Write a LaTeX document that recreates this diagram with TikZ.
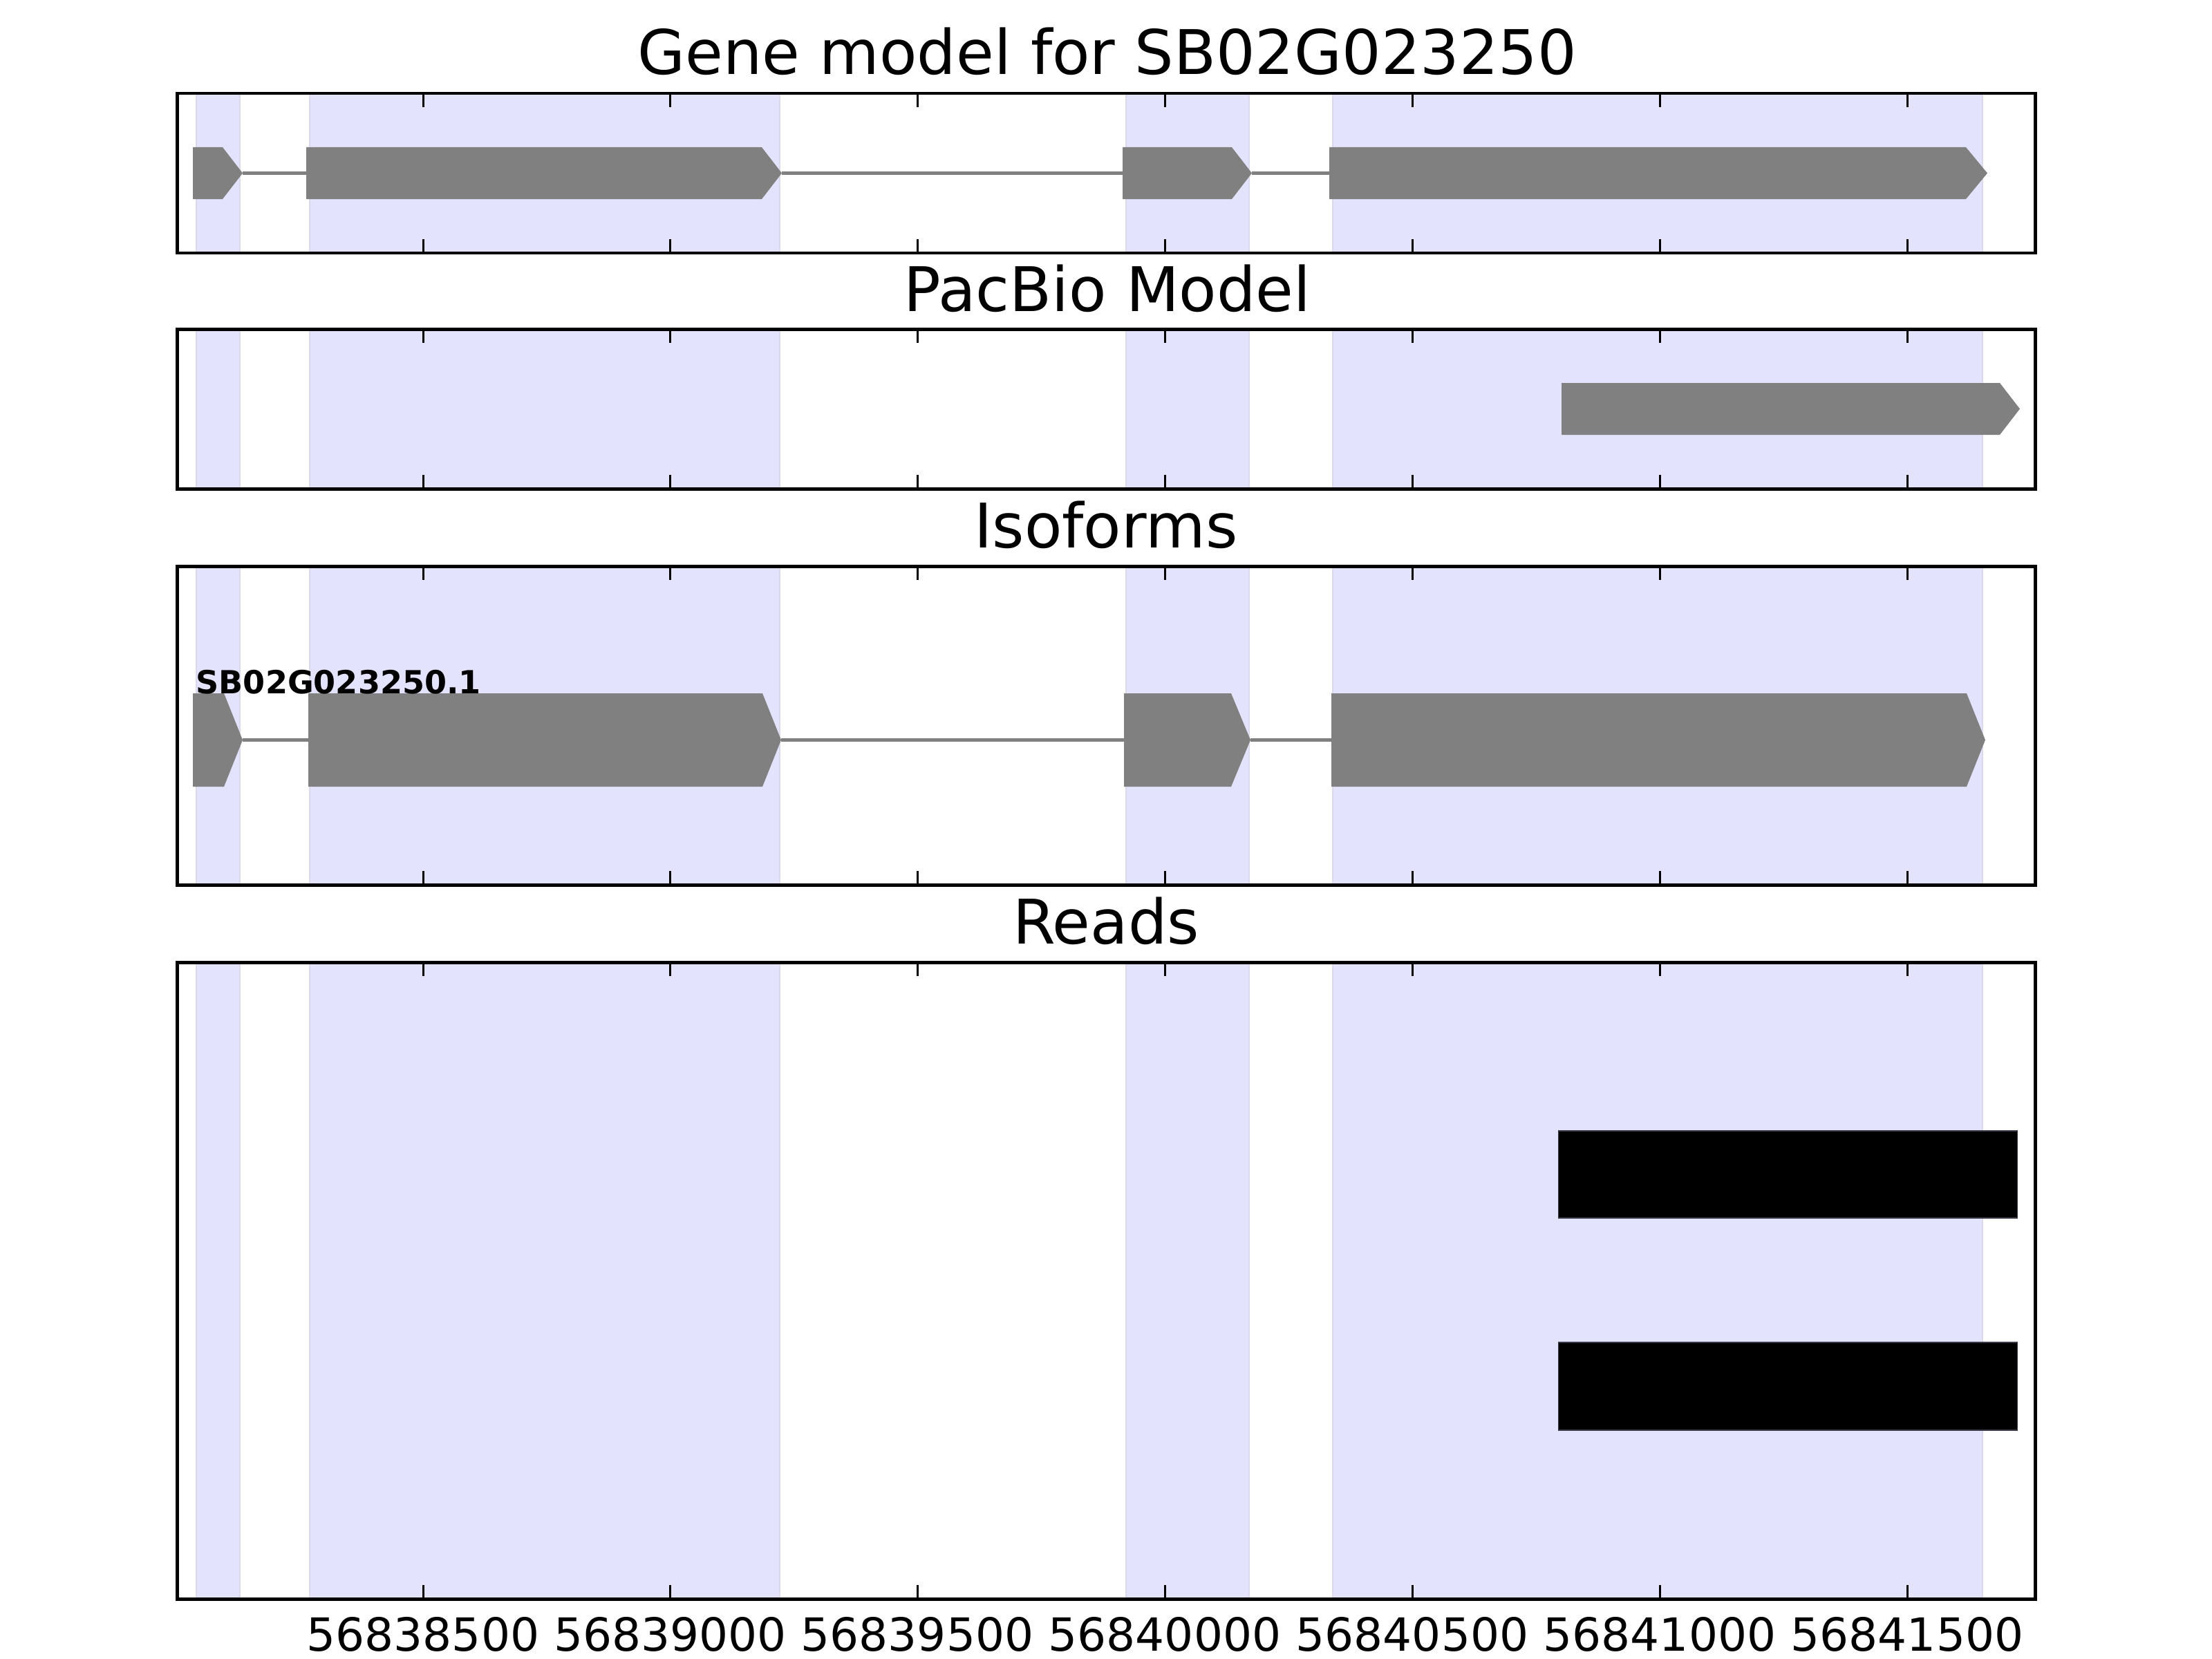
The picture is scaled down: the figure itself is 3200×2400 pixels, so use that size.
\documentclass[tikz,border=0pt]{standalone}
\usepackage{fontspec}
\setmainfont{DejaVu Sans}
\definecolor{exongray}{HTML}{808080}
\definecolor{shadefill}{HTML}{E3E3FD}
\definecolor{shadeedge}{HTML}{DADAEC}
\definecolor{readedge}{HTML}{3A3A4A}
\begin{document}
\begin{tikzpicture}[x=0.01cm,y=-0.01cm,
  exonshape/.style={fill=exongray, draw=none},
  intronline/.style={draw=exongray, line width=1.4pt},
  shadebox/.style={fill=shadefill, draw=shadeedge, line width=0.8pt},
  panelframe/.style={draw=black, line width=1.42pt},
  tickmark/.style={draw=black, line width=0.85pt},
  readbox/.style={fill=black, draw=readedge, line width=0.3pt},
  titletext/.style={font=\fontsize{25.3}{30}\selectfont, anchor=base, inner sep=0pt},
  ticklabel/.style={font=\fontsize{18.8}{22}\selectfont, anchor=base, inner sep=0pt},
  isolabel/.style={font=\bfseries\fontsize{13.1}{15}\selectfont, anchor=base west, inner sep=0pt}]
\useasboundingbox[fill=white] (0,0) rectangle (3200,2400);

% shaded exon regions in every panel
\foreach \t/\b in {135/366, 476/707, 819/1280, 1392/2313} {
  \foreach \xa/\xb in {284/347, 448/1128, 1629/1807, 1928/2868} {
    \path[shadebox] (\xa,\t) rectangle (\xb,\b);
  }
}

% ---- Panel 1: gene model ----
\draw[intronline] (351,250.5) -- (443,250.5);
\draw[intronline] (1131,250.5) -- (1624,250.5);
\draw[intronline] (1811,250.5) -- (1923,250.5);
\fill[exonshape] (279,213) -- (322,213) -- (351,250.5) -- (322,288) -- (279,288) -- cycle;
\fill[exonshape] (443,213) -- (1102,213) -- (1131,250.5) -- (1102,288) -- (443,288) -- cycle;
\fill[exonshape] (1624,213) -- (1782,213) -- (1811,250.5) -- (1782,288) -- (1624,288) -- cycle;
\fill[exonshape] (1923,213) -- (2844,213) -- (2875,250.5) -- (2844,288) -- (1923,288) -- cycle;

% ---- Panel 2: PacBio model ----
\fill[exonshape] (2259,554) -- (2893,554) -- (2922,591.5) -- (2893,629) -- (2259,629) -- cycle;

% ---- Panel 3: isoforms ----
\draw[intronline] (351,1070.5) -- (446,1070.5);
\draw[intronline] (1130,1070.5) -- (1626,1070.5);
\draw[intronline] (1809,1070.5) -- (1926,1070.5);
\fill[exonshape] (279,1003) -- (324,1003) -- (351,1070.5) -- (324,1138) -- (279,1138) -- cycle;
\fill[exonshape] (446,1003) -- (1103,1003) -- (1130,1070.5) -- (1103,1138) -- (446,1138) -- cycle;
\fill[exonshape] (1626,1003) -- (1781,1003) -- (1809,1070.5) -- (1781,1138) -- (1626,1138) -- cycle;
\fill[exonshape] (1926,1003) -- (2845,1003) -- (2872,1070.5) -- (2845,1138) -- (1926,1138) -- cycle;
\node[isolabel] (isoname) at (283,1003) {SB02G023250.1};

% ---- Panel 4: reads ----
\path[readbox] (2254,1636) rectangle (2918,1762);
\path[readbox] (2254,1942) rectangle (2918,2069);

% ticks and frames
\foreach \t/\b in {135/366, 476/707, 819/1280, 1392/2313} {
  \foreach \tx in {612, 969.5, 1327, 1685, 2043, 2401, 2759} {
    \draw[tickmark] (\tx,\t) -- ++(0,20);
    \draw[tickmark] (\tx,\b) -- ++(0,-20);
  }
  \draw[panelframe] (256,\t) rectangle (2944,\b);
}

% titles
\node[titletext] (t1) at (1602,108) {Gene model for SB02G023250};
\node[titletext] (t2) at (1602,450) {PacBio Model};
\node[titletext] (t3) at (1600,792) {Isoforms};
\node[titletext] (t4) at (1600,1365) {Reads};

% tick labels
\node[ticklabel] (l1) at (612,2388) {56838500};
\node[ticklabel] (l2) at (969.5,2388) {56839000};
\node[ticklabel] (l3) at (1327,2388) {56839500};
\node[ticklabel] (l4) at (1685,2388) {56840000};
\node[ticklabel] (l5) at (2043,2388) {56840500};
\node[ticklabel] (l6) at (2401,2388) {56841000};
\node[ticklabel] (l7) at (2759,2388) {56841500};
\end{tikzpicture}
\end{document}
